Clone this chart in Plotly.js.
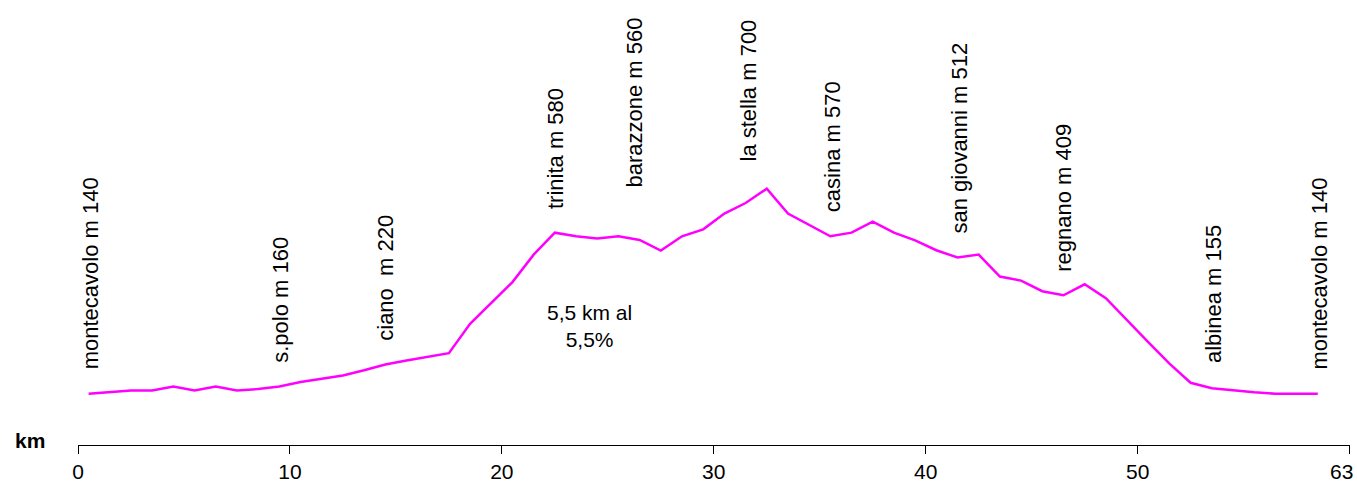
<!DOCTYPE html>
<html>
<head>
<meta charset="utf-8">
<script src="https://cdn.plot.ly/plotly-3.0.1.min.js"></script>
<style>html,body{margin:0;padding:0;background:#fff;}#chart{width:1357px;height:484px;}</style>
</head>
<body>
<div id="chart"></div>
<script>
// Distance (km) of each profile point
var km = [0.5,1.5,2.5,3.5,4.5,5.5,6.5,7.5,8.5,9.5,10.5,11.5,12.5,13.5,14.5,15.5,16.5,17.5,18.5,19.5,
          20.5,21.5,22.5,23.5,24.5,25.5,26.5,27.5,28.5,29.5,30.5,31.5,32.5,33.5,34.5,35.5,36.5,37.5,38.5,39.5,
          40.5,41.5,42.5,43.5,44.5,45.5,46.5,47.5,48.5,49.5,50.5,51.5,52.5,53.5,54.5,55.5,56.5,57.5,58.5];
// Elevation (m)
var quota = [140,144,149,149,160,149,160,149,153,160,172,181,190,204,220,231,242,251,331,388,
             445,520,580,570,564,570,560,531,570,589,632,661,700,632,600,570,580,610,580,559,
             532,512,520,460,449,420,409,439,401,340,281,222,170,155,149,144,140,140,140];
// Tick positions and labels
var tickVals = [0,10,20,30,40,50,60];
var tickLabels = ['0','10','20','30','40','50','63'];
// Place names and the profile point each belongs to
var placeNames = ['montecavolo m 140','s.polo m 160','ciano  m 220','trinita m 580','barazzone m 560',
                  'la stella m 700','casina m 570','san giovanni m 512','regnano m 409','albinea m 155','montecavolo m 140'];
var placeIndex = [0,9,14,22,26,32,35,41,46,53,58];
var noteText = '5,5 km al<br>5,5%';

// label offsets (pixels) - style/position only
var labelXShift = [2,1,0,0,-5,-18,2,2,0,1,2];
var labelYShift = [22,22,22,22,50,25,22,22,22,23,22];

var FONT = 'Liberation Sans, Arial, sans-serif';

var annotations = placeNames.map(function(name, i){
  var idx = placeIndex[i];
  return {
    x: km[idx], y: quota[idx], xref: 'x', yref: 'y',
    text: name, showarrow: false, textangle: -90,
    xanchor: 'center', yanchor: 'bottom',
    xshift: labelXShift[i], yshift: labelYShift[i],
    font: {family: FONT, size: 22, color: '#000'}
  };
});
annotations.push({
  x: 24.15, y: 325, xref: 'x', yref: 'y', text: noteText, showarrow: false,
  xanchor: 'center', yanchor: 'middle', align: 'center',
  font: {family: FONT, size: 21, color: '#000'}
});
annotations.push({
  x: -0.0375, y: 0.01, xref: 'paper', yref: 'paper', text: '<b>km</b>', showarrow: false,
  xanchor: 'center', yanchor: 'middle',
  font: {family: FONT, size: 21, color: '#000'}
});
// last tick label drawn as annotation so it can sit left of the edge (as in the reference)
var lastTick = tickVals.length - 1;
annotations.push({
  x: tickVals[lastTick], y: 0, xref: 'x', yref: 'paper', text: tickLabels[lastTick], showarrow: false,
  xanchor: 'center', yanchor: 'middle', xshift: -8, yshift: -26,
  font: {family: FONT, size: 21, color: '#000'}
});
var axisText = tickLabels.map(function(t, i){ return i === lastTick ? '' : t; });

var trace = {
  x: km, y: quota, type: 'scatter', mode: 'lines',
  line: {color: '#FF00FF', width: 2.5},
  hoverinfo: 'skip'
};

var layout = {
  width: 1357, height: 484,
  margin: {l: 78, r: 7, t: 0, b: 39, pad: 0},
  paper_bgcolor: '#fff', plot_bgcolor: '#fff',
  showlegend: false,
  xaxis: {
    range: [0, 60.02], tickmode: 'array', tickvals: tickVals, ticktext: axisText,
    showline: true, linecolor: '#000', linewidth: 1,
    ticks: 'outside', ticklen: 8, tickwidth: 1, tickcolor: '#000',
    showgrid: false, zeroline: false,
    tickfont: {family: FONT, size: 21, color: '#000'}
  },
  yaxis: {range: [0, 1215.5], visible: false, showgrid: false, zeroline: false},
  annotations: annotations
};

Plotly.newPlot('chart', [trace], layout, {staticPlot: true, displayModeBar: false});
</script>
</body>
</html>
